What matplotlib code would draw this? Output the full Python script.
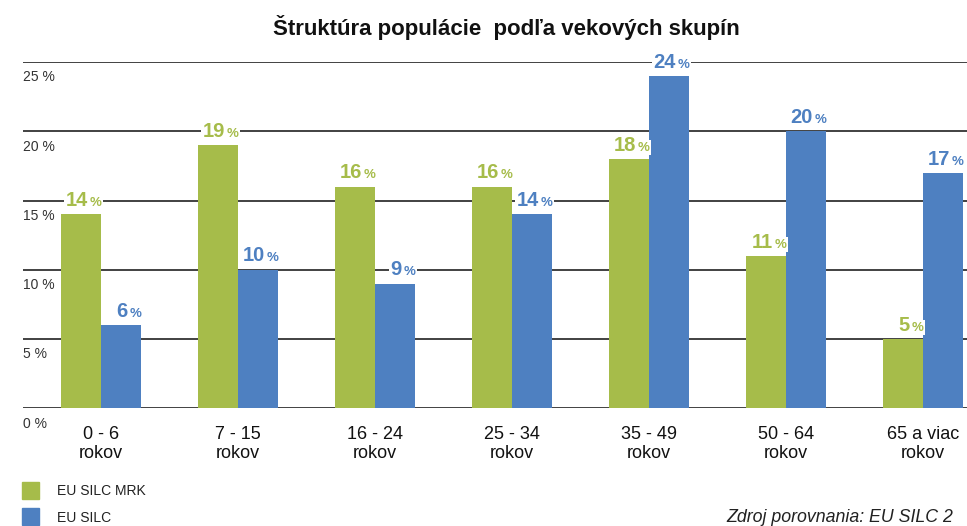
import matplotlib.pyplot as plt
import numpy as np
from matplotlib.transforms import offset_copy

# data
categories = ["0 - 6\nrokov", "7 - 15\nrokov", "16 - 24\nrokov", "25 - 34\nrokov",
              "35 - 49\nrokov", "50 - 64\nrokov", "65 a viac\nrokov"]
mrk = [14, 19, 16, 16, 18, 11, 5]
silc = [6, 10, 9, 14, 24, 20, 17]
yticks = [0, 5, 10, 15, 20, 25]

green = "#A6BC4A"
blue = "#4E80C1"

plt.rcParams['font.family'] = ['Liberation Sans', 'DejaVu Sans']

fig = plt.figure(figsize=(9.67, 5.26), dpi=100)
ax = fig.add_axes([0.0238, 0.2238, 0.9762, 0.6582])

x = np.arange(len(categories))
w = 0.292

# gridlines + y labels sitting under each line
ytrans = offset_copy(ax.get_yaxis_transform(), fig=fig, x=0, y=-6, units="points")
for t in yticks:
    ax.axhline(t, color="#333333", lw=1.3, zorder=1)
    ax.text(0.0, t, f"{t} %", transform=ytrans, ha="left", va="top",
            fontsize=10, color="#333333")

ax.bar(x - w / 2 + 0.007, mrk, w, color=green, zorder=2)
ax.bar(x + w / 2 + 0.007, silc, w, color=blue, zorder=2)

def label(xc, h, color):
    bb = dict(facecolor="white", edgecolor="none", pad=1.0)
    ax.annotate(str(h), (xc, h), xytext=(5, 6), textcoords="offset points",
                ha="right", va="baseline", fontsize=14.5, fontweight="bold",
                color=color, bbox=bb, zorder=3)
    ax.annotate("%", (xc, h), xytext=(6.5, 6), textcoords="offset points",
                ha="left", va="baseline", fontsize=9.5, fontweight="bold",
                color=color, bbox=bb, zorder=3)

for i in range(len(categories)):
    label(x[i] - w / 2 + 0.007, mrk[i], green)
    label(x[i] + w / 2 + 0.007, silc[i], blue)

ctrans = offset_copy(ax.transData, fig=fig, x=0, y=-13, units="points")
for i, c in enumerate(categories):
    ax.text(x[i] + 0.007, 0, c, transform=ctrans, ha="center", va="top",
            fontsize=13, color="#111111", linespacing=1.1)

ax.set_xlim(-0.562, 6.33)
ax.set_ylim(0, 25)
ax.axis("off")

fig.text(0.524, 0.948, "Štruktúra populácie  podľa vekových skupín", ha="center",
         va="center", fontsize=16, fontweight="bold", color="#111111")

# legend
fig.patches.append(plt.Rectangle((22 / 967, 1 - 499 / 526), 17 / 967, 17 / 526,
                                 transform=fig.transFigure, color=green))
fig.patches.append(plt.Rectangle((22 / 967, 1 - 525 / 526), 17 / 967, 17 / 526,
                                 transform=fig.transFigure, color=blue))
fig.text(57 / 967, 1 - 491 / 526, "EU SILC MRK", ha="left", va="center",
         fontsize=10, color="#222222")
fig.text(57 / 967, 1 - 518 / 526, "EU SILC", ha="left", va="center",
         fontsize=10, color="#222222")

fig.text(726 / 967, 1 - 518 / 526, "Zdroj porovnania: EU SILC 2", ha="left",
         va="center", fontsize=12.8, style="italic", color="#222222")

fig.savefig("out.png", dpi=100)
